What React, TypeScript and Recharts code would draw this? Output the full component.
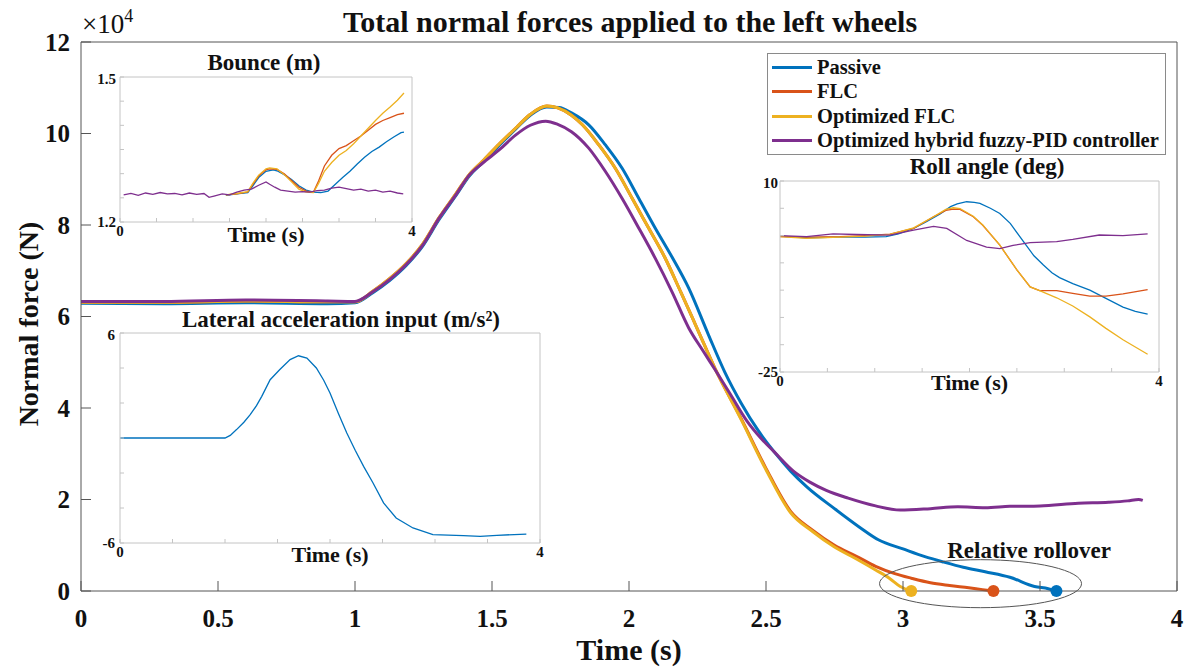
import React from 'react';
import { LineChart, Line, XAxis, YAxis, Legend, ReferenceDot, CartesianGrid } from 'recharts';

const SERIF = '"Liberation Serif", "Times New Roman", Times, serif';
const INK = '#111';

const BLUE = '#0072BD';
const ORANGE = '#D95319';
const YELLOW = '#EDB120';
const PURPLE = '#7E2F8E';

const SERIES_NAMES = ['Passive', 'FLC', 'Optimized FLC', 'Optimized hybrid fuzzy-PID controller'];

// Main plot: time [s] vs total normal force on the left wheels [x10^4 N]
const TIME_TICKS = [0, 0.5, 1, 1.5, 2, 2.5, 3, 3.5, 4];
const FORCE_TICKS = [0, 2, 4, 6, 8, 10, 12];

const passiveForce = [
  [0, 6.29], [0.3, 6.28], [0.6, 6.3], [0.9, 6.28], [1.0, 6.3], [1.065, 6.52], [1.125, 6.78], [1.186, 7.11],
  [1.247, 7.54], [1.307, 8.12], [1.368, 8.64], [1.417, 9.07], [1.465, 9.36], [1.526, 9.74], [1.587, 10.1],
  [1.64, 10.4], [1.7, 10.58], [1.745, 10.57], [1.79, 10.45], [1.853, 10.19], [1.914, 9.75], [1.975, 9.24],
  [2.036, 8.58], [2.096, 7.93], [2.157, 7.3], [2.218, 6.62], [2.29, 5.6], [2.35, 4.78], [2.41, 4.1],
  [2.47, 3.52], [2.53, 3.04], [2.59, 2.62], [2.65, 2.27], [2.75, 1.8], [2.84, 1.4], [2.91, 1.12], [3.0, 0.92],
  [3.08, 0.75], [3.15, 0.63], [3.22, 0.52], [3.3, 0.42], [3.39, 0.3], [3.48, 0.1], [3.53, 0.05], [3.56, 0],
];

const flcForce = [
  [0, 6.31], [0.3, 6.31], [0.6, 6.34], [0.9, 6.32], [1.0, 6.32], [1.065, 6.55], [1.125, 6.82], [1.186, 7.15],
  [1.247, 7.58], [1.307, 8.16], [1.368, 8.68], [1.417, 9.1], [1.465, 9.39], [1.526, 9.77], [1.587, 10.12],
  [1.64, 10.42], [1.7, 10.6], [1.74, 10.56], [1.79, 10.4], [1.83, 10.19], [1.89, 9.75], [1.95, 9.24],
  [2.01, 8.6], [2.07, 7.95], [2.13, 7.3], [2.19, 6.52], [2.25, 5.72], [2.315, 4.85], [2.41, 3.76], [2.5, 2.68],
  [2.59, 1.74], [2.67, 1.33], [2.75, 1.0], [2.83, 0.76], [2.9, 0.54], [2.97, 0.38], [3.03, 0.28], [3.1, 0.18],
  [3.17, 0.12], [3.24, 0.07], [3.29, 0.03], [3.33, 0],
];

const optFlcForce = [
  [0, 6.31], [0.3, 6.31], [0.6, 6.34], [0.9, 6.32], [1.0, 6.32], [1.065, 6.55], [1.125, 6.82], [1.186, 7.15],
  [1.247, 7.58], [1.307, 8.16], [1.368, 8.68], [1.417, 9.1], [1.465, 9.39], [1.526, 9.77], [1.587, 10.12],
  [1.64, 10.42], [1.7, 10.6], [1.74, 10.56], [1.79, 10.4], [1.83, 10.19], [1.89, 9.75], [1.95, 9.24],
  [2.01, 8.6], [2.07, 7.95], [2.13, 7.3], [2.19, 6.52], [2.25, 5.72], [2.315, 4.85], [2.41, 3.74], [2.5, 2.65],
  [2.59, 1.71], [2.67, 1.3], [2.75, 0.96], [2.83, 0.7], [2.9, 0.46], [2.95, 0.28], [2.99, 0.1], [3.03, 0],
];

const hybridForce = [
  [0, 6.33], [0.3, 6.33], [0.6, 6.36], [0.9, 6.34], [1.0, 6.33], [1.065, 6.54], [1.125, 6.8], [1.186, 7.13],
  [1.247, 7.56], [1.307, 8.15], [1.368, 8.66], [1.417, 9.09], [1.465, 9.35], [1.526, 9.64], [1.587, 9.97],
  [1.64, 10.18], [1.696, 10.27], [1.74, 10.2], [1.79, 10.04], [1.853, 9.68], [1.914, 9.17], [1.975, 8.58],
  [2.036, 7.93], [2.096, 7.27], [2.157, 6.54], [2.218, 5.75], [2.27, 5.25], [2.315, 4.83], [2.37, 4.3],
  [2.43, 3.72], [2.48, 3.35], [2.53, 3.04], [2.6, 2.62], [2.66, 2.38], [2.72, 2.2], [2.8, 2.03], [2.9, 1.86],
  [2.99, 1.77], [3.1, 1.8], [3.2, 1.84], [3.3, 1.82], [3.39, 1.85], [3.5, 1.86], [3.64, 1.92], [3.75, 1.94],
  [3.82, 1.97], [3.86, 2.0], [3.875, 1.98],
];

// Bounce [m]
const BOUNCE_TICKS = [1.2, 1.25, 1.3, 1.35, 1.4, 1.45, 1.5];
const bouncePassive = [
  [1.45, 1.255], [1.6, 1.258], [1.75, 1.261], [1.82, 1.275], [1.9, 1.292], [2.0, 1.305], [2.1, 1.308],
  [2.15, 1.306], [2.25, 1.298], [2.35, 1.288], [2.45, 1.275], [2.55, 1.266], [2.65, 1.262], [2.75, 1.261],
  [2.85, 1.264], [2.95, 1.278], [3.05, 1.292], [3.15, 1.305], [3.25, 1.32], [3.35, 1.334], [3.45, 1.346],
  [3.55, 1.355], [3.65, 1.366], [3.75, 1.376], [3.85, 1.385], [3.89, 1.386],
];
const bounceFlc = [
  [1.45, 1.256], [1.6, 1.258], [1.75, 1.262], [1.82, 1.278], [1.9, 1.295], [2.0, 1.308], [2.05, 1.31],
  [2.15, 1.309], [2.25, 1.3], [2.35, 1.286], [2.45, 1.272], [2.55, 1.264], [2.65, 1.262], [2.72, 1.285],
  [2.8, 1.316], [2.9, 1.338], [3.0, 1.352], [3.1, 1.358], [3.2, 1.368], [3.3, 1.378], [3.4, 1.39],
  [3.5, 1.402], [3.6, 1.41], [3.7, 1.416], [3.8, 1.422], [3.89, 1.425],
];
const bounceOptFlc = [
  [1.45, 1.256], [1.6, 1.259], [1.75, 1.263], [1.82, 1.28], [1.9, 1.297], [2.0, 1.31], [2.05, 1.312],
  [2.15, 1.31], [2.25, 1.298], [2.35, 1.283], [2.45, 1.268], [2.55, 1.262], [2.65, 1.261], [2.72, 1.28],
  [2.8, 1.305], [2.9, 1.323], [3.0, 1.338], [3.1, 1.348], [3.2, 1.362], [3.3, 1.378], [3.4, 1.394],
  [3.5, 1.41], [3.6, 1.425], [3.7, 1.438], [3.8, 1.452], [3.89, 1.467],
];
const bounceHybrid = [
  [0.05, 1.256], [0.15, 1.259], [0.25, 1.255], [0.35, 1.26], [0.45, 1.257], [0.55, 1.261], [0.65, 1.258],
  [0.75, 1.259], [0.85, 1.256], [0.95, 1.26], [1.05, 1.257], [1.15, 1.259], [1.22, 1.251], [1.3, 1.254],
  [1.4, 1.258], [1.5, 1.256], [1.6, 1.262], [1.7, 1.266], [1.8, 1.268], [1.9, 1.276], [2.0, 1.283],
  [2.05, 1.278], [2.12, 1.272], [2.2, 1.266], [2.3, 1.264], [2.4, 1.262], [2.5, 1.263], [2.6, 1.262],
  [2.7, 1.265], [2.8, 1.266], [2.9, 1.27], [3.0, 1.272], [3.1, 1.269], [3.2, 1.266], [3.3, 1.268],
  [3.4, 1.264], [3.5, 1.266], [3.6, 1.262], [3.7, 1.264], [3.8, 1.26], [3.88, 1.258],
];

// Lateral acceleration input [m/s^2]
const ACCEL_TICKS = [-6, -4, -2, 0, 2, 4, 6];
const lateralAccel = [
  [0, 0], [1.0, 0], [1.05, 0.15], [1.11, 0.48], [1.18, 0.9], [1.24, 1.33], [1.3, 1.85], [1.35, 2.38],
  [1.43, 3.33], [1.52, 3.9], [1.62, 4.48], [1.7, 4.7], [1.78, 4.57], [1.87, 4.0], [1.94, 3.3], [2.0, 2.57],
  [2.08, 1.4], [2.16, 0.29], [2.24, -0.7], [2.32, -1.62], [2.41, -2.57], [2.51, -3.71], [2.63, -4.57],
  [2.79, -5.14], [2.98, -5.52], [3.27, -5.58], [3.43, -5.62], [3.59, -5.56], [3.87, -5.49],
];

// Roll angle [deg]
const ROLL_TICKS = [-25, -20, -15, -10, -5, 0, 5, 10];
const rollPassive = [
  [0, -0.1], [0.28, -0.4], [0.63, -0.3], [0.9, -0.3], [1.12, -0.2], [1.25, 0.3], [1.41, 1.3], [1.55, 2.6],
  [1.69, 3.94], [1.8, 5.3], [1.87, 5.8], [1.97, 6.2], [2.05, 6.1], [2.11, 5.9], [2.22, 5.0], [2.32, 4.06],
  [2.43, 2.23], [2.57, -1.1], [2.68, -3.7], [2.78, -5.4], [2.87, -6.8], [2.95, -7.7], [3.09, -8.8],
  [3.27, -10.0], [3.44, -11.5], [3.62, -13.1], [3.75, -13.9], [3.88, -14.4],
];
const rollFlc = [
  [0, -0.2], [0.3, -0.3], [0.63, -0.2], [0.9, 0.0], [1.16, 0.27], [1.41, 1.3], [1.62, 3.45], [1.75, 4.6],
  [1.83, 4.86], [1.9, 4.8], [2.04, 3.45], [2.14, 1.9], [2.32, -1.75], [2.5, -6.3], [2.64, -9.4], [2.74, -10.1],
  [2.92, -10.1], [3.09, -10.6], [3.27, -11.1], [3.44, -11.1], [3.62, -10.7], [3.88, -9.9],
];
const rollOptFlc = [
  [0, -0.2], [0.28, -0.5], [0.63, -0.3], [0.9, -0.1], [1.16, 0.2], [1.41, 1.4], [1.62, 3.45], [1.75, 4.8],
  [1.83, 5.1], [1.9, 4.95], [2.04, 3.55], [2.14, 1.95], [2.32, -1.75], [2.5, -6.3], [2.64, -9.4], [2.74, -10.1],
  [2.92, -11.4], [3.09, -12.9], [3.27, -14.9], [3.44, -17.0], [3.62, -19.1], [3.88, -21.75],
];
const rollHybrid = [
  [0, 0], [0.28, -0.2], [0.56, 0.3], [0.81, 0.2], [1.16, 0.1], [1.41, 1.0], [1.62, 1.7], [1.76, 1.3],
  [1.97, -0.9], [2.18, -2.1], [2.32, -2.4], [2.46, -1.8], [2.64, -1.3], [2.92, -1.1], [3.09, -0.7],
  [3.37, 0.1], [3.62, 0.0], [3.88, 0.3],
];

type Pt = { t: number; v: number };
const toPoints = (rows: number[][]): Pt[] => rows.map(([t, v]) => ({ t, v }));

const tickFont = (size: number) => ({ fill: INK, fontSize: size, fontWeight: 'bold' as const, fontFamily: SERIF });
const blank = () => '';

const endDot = (color: string, count: number) => (p: any) =>
  p.index === count - 1 ? (
    <circle key={`end-${color}`} cx={p.cx} cy={p.cy} r={6} fill={color} stroke="none" />
  ) : (
    <g key={`no-${color}-${p.index}`} />
  );

const LegendBox = ({ payload }: any) => {
  const items = (payload || [])
    .slice()
    .sort((a: any, b: any) => SERIES_NAMES.indexOf(a.value) - SERIES_NAMES.indexOf(b.value));
  return (
    <div style={{ border: '1px solid #8a8a8a', background: '#fff', width: 397, paddingTop: 1, paddingBottom: 1 }}>
      {items.map((e: any) => (
        <div
          key={e.value}
          style={{
            display: 'flex',
            alignItems: 'center',
            height: 24.5,
            fontFamily: SERIF,
            fontWeight: 'bold',
            fontSize: 20.5,
            color: INK,
            whiteSpace: 'nowrap',
          }}
        >
          <span style={{ display: 'inline-block', width: 40, height: 3, background: e.color, marginLeft: 4, marginRight: 5 }} />
          {e.value}
        </div>
      ))}
    </div>
  );
};

const RolloverEllipse = (p: any) => (
  <ellipse cx={p.cx} cy={p.cy} rx={101} ry={24} fill="none" stroke="#555" strokeWidth={1} />
);
const RolloverText = (p: any) => (
  <text x={p.cx} y={p.cy + 8} textAnchor="middle" fontFamily={SERIF} fontWeight="bold" fontSize={23} fill={INK}>
    Relative rollover
  </text>
);

function MainChart() {
  const passive = toPoints(passiveForce);
  const flc = toPoints(flcForce);
  const opt = toPoints(optFlcForce);
  const hybrid = toPoints(hybridForce);
  const axisColor = '#555';
  return (
    <div style={{ position: 'absolute', left: 0, top: 0 }}>
      <LineChart width={1189} height={668} margin={{ top: 41, right: 11, bottom: 0, left: 0 }}>
        <XAxis
          xAxisId="b"
          dataKey="t"
          type="number"
          domain={[0, 4]}
          ticks={TIME_TICKS}
          height={77}
          tickSize={-10}
          tickMargin={28}
          stroke={axisColor}
          tick={tickFont(25)}
          label={{
            value: 'Time (s)',
            position: 'insideBottom',
            offset: 8,
            style: { fontFamily: SERIF, fontWeight: 'bold', fontSize: 30, fill: INK },
          }}
        />
        <XAxis xAxisId="t" orientation="top" type="number" domain={[0, 4]} ticks={TIME_TICKS} height={1}
          tickSize={-10} stroke={axisColor} tickFormatter={blank} />
        <YAxis
          yAxisId="l"
          type="number"
          domain={[0, 12]}
          ticks={FORCE_TICKS}
          width={81}
          tickSize={-10}
          tickMargin={21}
          stroke={axisColor}
          tick={tickFont(25)}
        />
        <YAxis yAxisId="r" orientation="right" type="number" domain={[0, 12]} ticks={FORCE_TICKS} width={1}
          tickSize={-10} stroke={axisColor} tickFormatter={blank} />
        <Legend layout="vertical" align="center" verticalAlign="middle" content={<LegendBox />}
          wrapperStyle={{ left: 767, top: 53, width: 'auto', height: 'auto' }} />
        <Line xAxisId="b" yAxisId="l" data={passive} dataKey="v" name={SERIES_NAMES[0]} type="monotone"
          stroke={BLUE} strokeWidth={3} dot={endDot(BLUE, passive.length)} activeDot={false} isAnimationActive={false} />
        <Line xAxisId="b" yAxisId="l" data={flc} dataKey="v" name={SERIES_NAMES[1]} type="monotone"
          stroke={ORANGE} strokeWidth={3} dot={endDot(ORANGE, flc.length)} activeDot={false} isAnimationActive={false} />
        <Line xAxisId="b" yAxisId="l" data={opt} dataKey="v" name={SERIES_NAMES[2]} type="monotone"
          stroke={YELLOW} strokeWidth={3} dot={endDot(YELLOW, opt.length)} activeDot={false} isAnimationActive={false} />
        <Line xAxisId="b" yAxisId="l" data={hybrid} dataKey="v" name={SERIES_NAMES[3]} type="monotone"
          stroke={PURPLE} strokeWidth={3} dot={false} activeDot={false} isAnimationActive={false} />
        <ReferenceDot xAxisId="b" yAxisId="l" x={3.283} y={0.16} ifOverflow="visible" shape={RolloverEllipse} />
        <ReferenceDot xAxisId="b" yAxisId="l" x={3.46} y={0.9} ifOverflow="visible" shape={RolloverText} />
      </LineChart>
    </div>
  );
}

type InsetSeries = { rows: number[][]; color: string };

function Inset(props: {
  left: number;
  top: number;
  width: number;
  height: number;
  marginTop: number;
  marginRight: number;
  xAxisHeight: number;
  yDomain: [number, number];
  yTicks: number[];
  yTickMargin: number;
  timeLabelOffset: number;
  series: InsetSeries[];
}) {
  const frame = '#c4c4c4';
  const [lo, hi] = props.yDomain;
  return (
    <div style={{ position: 'absolute', left: props.left, top: props.top }}>
      <LineChart width={props.width} height={props.height}
        margin={{ top: props.marginTop, right: props.marginRight, bottom: 0, left: 0 }}>
        <CartesianGrid xAxisId="b" yAxisId="l" horizontal={false} vertical={false} fill="#fff" />
        <XAxis
          xAxisId="b"
          dataKey="t"
          type="number"
          domain={[0, 4]}
          ticks={TIME_TICKS}
          height={props.xAxisHeight}
          tickSize={-4}
          tickMargin={7}
          stroke={frame}
          tick={tickFont(15)}
          tickFormatter={(v: number) => (v === 0 || v === 4 ? String(v) : '')}
          label={{
            value: 'Time (s)',
            position: 'insideTop',
            offset: props.timeLabelOffset,
            style: { fontFamily: SERIF, fontWeight: 'bold', fontSize: 22, fill: INK },
          }}
        />
        <XAxis xAxisId="t" orientation="top" type="number" domain={[0, 4]} ticks={TIME_TICKS} height={1}
          tickSize={-4} stroke={frame} tickFormatter={blank} />
        <YAxis
          yAxisId="l"
          type="number"
          domain={props.yDomain}
          ticks={props.yTicks}
          width={40}
          tickSize={-4}
          tickMargin={props.yTickMargin}
          stroke={frame}
          tick={tickFont(15)}
          tickFormatter={(v: number) => (v === lo || v === hi ? String(v) : '')}
        />
        <YAxis yAxisId="r" orientation="right" type="number" domain={props.yDomain} ticks={props.yTicks} width={1}
          tickSize={-4} stroke={frame} tickFormatter={blank} />
        {props.series.map((s, i) => (
          <Line key={i} xAxisId="b" yAxisId="l" data={toPoints(s.rows)} dataKey="v" type="linear"
            stroke={s.color} strokeWidth={1.3} dot={false} activeDot={false} isAnimationActive={false} />
        ))}
      </LineChart>
    </div>
  );
}

export default function App() {
  const bold = { fontFamily: SERIF, fontWeight: 'bold' as const, fill: INK };
  return (
    <div style={{ position: 'absolute', left: 0, top: 0, width: 1189, height: 668, background: '#fff', overflow: 'hidden' }}>
      <MainChart />
      <Inset left={80} top={70} width={340} height={190} marginTop={6} marginRight={7} xAxisHeight={38}
        yDomain={[1.2, 1.5]} yTicks={BOUNCE_TICKS} yTickMargin={8} timeLabelOffset={4}
        series={[
          { rows: bouncePassive, color: BLUE },
          { rows: bounceFlc, color: ORANGE },
          { rows: bounceOptFlc, color: YELLOW },
          { rows: bounceHybrid, color: PURPLE },
        ]} />
      <Inset left={80} top={326} width={470} height={247} marginTop={6} marginRight={9} xAxisHeight={30}
        yDomain={[-6, 6]} yTicks={ACCEL_TICKS} yTickMargin={9} timeLabelOffset={3}
        series={[{ rows: lateralAccel, color: BLUE }]} />
      <Inset left={740} top={174} width={430} height={225} marginTop={6} marginRight={10} xAxisHeight={27}
        yDomain={[-25, 10]} yTicks={ROLL_TICKS} yTickMargin={6} timeLabelOffset={2}
        series={[
          { rows: rollPassive, color: BLUE },
          { rows: rollFlc, color: ORANGE },
          { rows: rollOptFlc, color: YELLOW },
          { rows: rollHybrid, color: PURPLE },
        ]} />
      <svg width={1189} height={668} style={{ position: 'absolute', left: 0, top: 0, pointerEvents: 'none' }}>
        <text x={630} y={32} textAnchor="middle" fontSize={30} {...bold}>
          Total normal forces applied to the left wheels
        </text>
        <text x={82} y={33} fontFamily={SERIF} fontSize={27} fill={INK}>
          ×10<tspan fontSize={18} dy={-11}>4</tspan>
        </text>
        <text transform="translate(38, 324) rotate(-90)" textAnchor="middle" fontSize={28} {...bold}>
          Normal force (N)
        </text>
        <text x={264} y={70} textAnchor="middle" fontSize={23} {...bold}>Bounce (m)</text>
        <text x={341} y={327} textAnchor="middle" fontSize={23} {...bold}>Lateral acceleration input (m/s²)</text>
        <text x={987} y={174} textAnchor="middle" fontSize={23} {...bold}>Roll angle (deg)</text>
      </svg>
    </div>
  );
}
